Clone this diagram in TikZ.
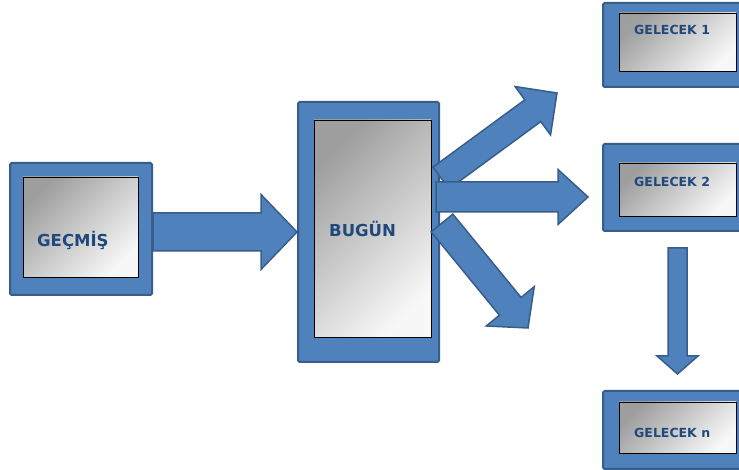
\documentclass[tikz,border=0pt]{standalone}
\usepackage{fontspec}
\setmainfont{DejaVu Sans}
\definecolor{boxBlue}{RGB}{79,129,189}
\definecolor{edgeBlue}{RGB}{56,93,138}
\definecolor{labelBlue}{RGB}{31,73,125}
\definecolor{shadeDark}{RGB}{158,158,158}
\definecolor{shadeLight}{RGB}{247,247,247}
\usepackage{tikz}
\usetikzlibrary{calc}

\newcommand{\blockarrow}[5]{%
  \draw[fatarrow] let \p1=(#1), \p2=(#2),
      \n1={atan2(\y2-\y1,\x2-\x1)}, \n2={veclen(\x2-\x1,\y2-\y1)} in
    ($(\p1)+(\n1+90:#3pt)$) -- ++(\n1:\n2-#5pt) -- ++(\n1+90:#4pt-#3pt)
    -- (\p2) -- ($(\p2)+(\n1+180:#5pt)+(\n1-90:#4pt)$)
    -- ++(\n1+90:#4pt-#3pt) -- ++(\n1+180:\n2-#5pt) -- cycle;}

\begin{document}
\begin{tikzpicture}[x=1pt,y=1pt,
        frame/.style={draw=edgeBlue,fill=boxBlue,line width=2pt,rounded corners=1.5pt,inner sep=0pt},
        panel/.style={draw=black,line width=0.9pt,top color=shadeDark,bottom color=shadeLight,
                      shading angle=45,inner sep=0pt},
        bigtag/.style={anchor=base west,inner sep=0pt,text=labelBlue,
                       font=\bfseries\fontsize{16.5}{18}\selectfont},
        smalltag/.style={anchor=base west,inner sep=0pt,text=labelBlue,
                         font=\bfseries\fontsize{12.5}{14}\selectfont},
        fatarrow/.style={draw=edgeBlue,fill=boxBlue,line width=1.5pt,line join=miter}
    ]
        \useasboundingbox (0,0) rectangle (739,470);

        \node[frame,minimum width=142,minimum height=132] (gecmis) at (81,241) {};
        \node[panel,minimum width=115,minimum height=100] (gecmisic) at (80.5,243) {};
        \node[bigtag] (gecmistag) at (37,223) {GEÇMİŞ};

        \node[frame,minimum width=141,minimum height=260] (bugun) at (368.5,238) {};
        \node[panel,minimum width=117,minimum height=217] (bugunic) at (372.5,241.5) {};
        \node[bigtag] (buguntag) at (329,233) {BUGÜN};

        \node[frame,minimum width=142,minimum height=84] (gelecek1) at (674,425) {};
        \node[panel,minimum width=117,minimum height=58] (gelecek1ic) at (677.5,428) {};
        \node[smalltag] (gelecek1tag) at (634,435) {GELECEK 1};

        \node[frame,minimum width=142,minimum height=87] (gelecek2) at (674,282.5) {};
        \node[panel,minimum width=117,minimum height=53] (gelecek2ic) at (677.5,280.5) {};
        \node[smalltag] (gelecek2tag) at (634,283) {GELECEK 2};

        \node[frame,minimum width=142,minimum height=78] (gelecekn) at (674,40) {};
        \node[panel,minimum width=117,minimum height=51] (gelecekneic) at (677.5,42.5) {};
        \node[smalltag] (gelecekntag) at (634,32) {GELECEK n};

        \coordinate (pastout) at (gecmis.east |- bugun.west);
        \blockarrow{pastout}{bugun.west}{19}{37.5}{36}

        \coordinate (upfrom) at (441,292);
        \coordinate (upto) at (557,377);
        \blockarrow{upfrom}{upto}{13.5}{30}{30}

        \coordinate (midfrom) at (436,273);
        \coordinate (midto) at (588,273);
        \blockarrow{midfrom}{midto}{15}{27.5}{30}

        \coordinate (lowfrom) at (442,247);
        \coordinate (lowto) at (528,142);
        \blockarrow{lowfrom}{lowto}{14}{31}{28}

        \coordinate (downfrom) at ($(gelecek2.south)+(3.5,-16)$);
        \coordinate (downto) at ($(gelecekn.north)+(3.5,16)$);
        \blockarrow{downfrom}{downto}{9.5}{20.5}{18}
    \end{tikzpicture}
\end{document}
